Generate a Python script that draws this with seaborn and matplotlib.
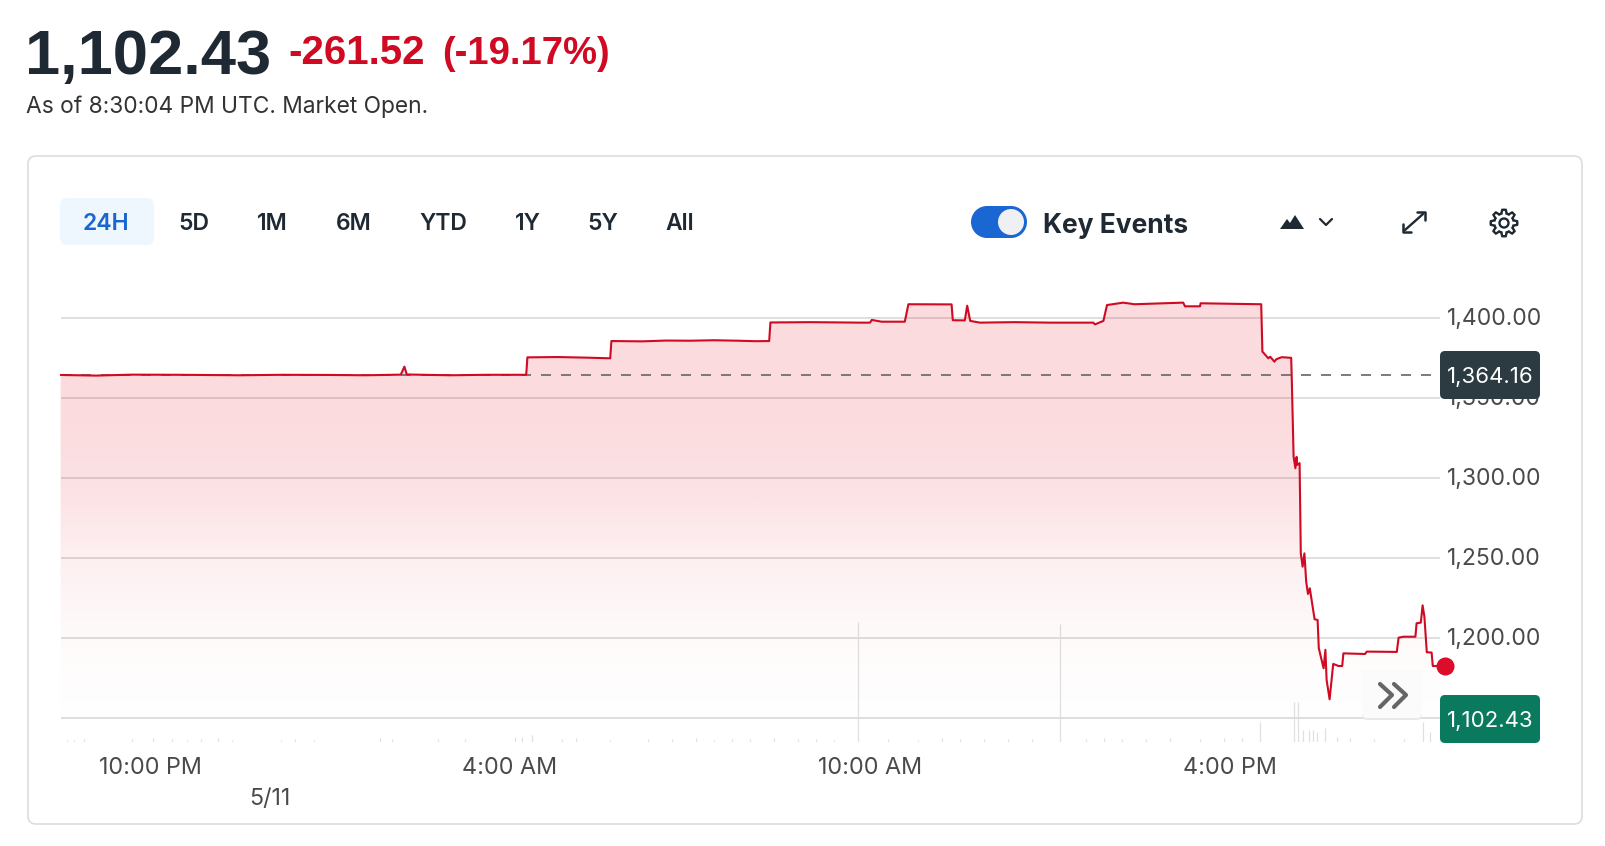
import numpy as np
import matplotlib
matplotlib.use("Agg")
import matplotlib.pyplot as plt
from matplotlib.colors import to_rgb
from matplotlib.patches import FancyBboxPatch, Circle, Polygon
from matplotlib.transforms import ScaledTranslation
import pandas as pd
import seaborn as sns

# Hours after 10:00 PM, and index level
hours = [-1.49, -0.9, -0.3, 0.5, 1.5, 2.2, 3.0, 3.6, 4.18, 4.24, 4.28, 5.0, 5.6, 6.27, 6.29, 6.8, 7.3, 7.67, 7.69, 8.2,
         8.6, 9.0, 9.4, 9.8, 10.1, 10.32, 10.34, 11.0, 11.83, 12.0, 12.03,
         12.19, 12.58, 12.64, 13.36, 13.38, 13.58, 13.62, 13.67, 13.83, 14.4, 15.0, 15.72, 15.75, 15.89, 15.95, 16.22, 16.41, 17.22, 17.25, 17.5, 17.51, 18.17,
         18.52, 18.54, 18.64, 18.67, 18.74, 18.77, 18.86, 19.02, 19.03, 19.06, 19.09, 19.11, 19.12, 19.16, 19.18, 19.21, 19.24, 19.27, 19.30, 19.33,
         19.41, 19.46, 19.48, 19.56, 19.59, 19.61, 19.66, 19.72, 19.81, 19.87, 19.89, 20.25, 20.28, 20.78, 20.81, 20.89, 21.09, 21.11, 21.18, 21.21,
         21.24, 21.28, 21.36, 21.38, 21.58]
prices = [1364.2, 1363.8, 1364.4, 1364.3, 1364.0, 1364.3, 1364.2, 1364.0, 1364.4, 1369.4, 1364.5, 1364.0, 1364.3, 1364.3, 1375.2, 1375.4, 1375.0, 1374.6, 1385.4, 1385.2,
          1385.7, 1385.6, 1385.9, 1385.6, 1385.3, 1385.4, 1397.0, 1397.2, 1396.9, 1396.9, 1398.6,
          1397.5, 1397.5, 1408.4, 1408.3, 1398.4, 1398.3, 1407.5, 1398.0, 1396.9, 1397.2, 1396.9, 1396.9, 1395.8, 1398.0, 1407.9, 1409.4, 1408.4, 1409.4, 1407.1, 1407.1, 1409.0, 1408.6,
          1408.4, 1378.8, 1374.6, 1375.6, 1372.5, 1374.0, 1375.3, 1374.9, 1361.1, 1313.1, 1305.9, 1313.0, 1308.0, 1309.1, 1252.7, 1244.4, 1252.7, 1235.0, 1227.3, 1230.9,
          1211.5, 1211.1, 1193.4, 1180.9, 1192.4, 1173.6, 1161.5, 1183.6, 1182.3, 1182.3, 1190.2, 1189.8, 1191.3, 1191.1, 1200.0, 1200.6, 1200.6, 1209.0, 1209.4, 1220.2,
          1213.1, 1190.9, 1190.7, 1182.3, 1182.3]
prev_close = 1364.16

vol_hours = [-1.39, -1.26, -1.10, -0.30, 0.05, 0.37, 0.62, 0.85, 1.13, 1.36, 2.18, 2.41, 2.73, 3.84, 4.03, 4.80, 5.25, 6.08, 6.2, 6.36,
             6.87, 7.1, 7.67, 8.3, 8.7, 9.1, 9.4, 9.7, 10.0, 10.4, 10.8, 11.1, 11.4, 11.8, 12.3, 12.8, 13.2, 13.5, 13.9, 14.3,
             14.7, 15.16, 15.6, 15.9, 16.2, 16.6, 17.0, 17.5, 17.9, 18.2, 18.5, 19.06, 19.14, 19.21, 19.31, 19.39, 19.45, 19.58, 19.78, 20.0,
             20.4, 20.9, 21.22, 21.33]
volumes = [2, 2, 3, 3, 4, 3, 2, 3, 4, 2, 2, 3, 2, 4, 3, 3, 3, 5, 5, 7,
           3, 4, 2, 3, 3, 4, 2, 3, 3, 4, 3, 3, 2, 120, 3, 2, 4, 3, 3, 3,
           3, 118, 3, 4, 3, 3, 4, 3, 4, 4, 20, 40, 40, 12, 12, 12, 10, 14, 5, 4,
           3, 3, 20, 10]

time_ticks = [0, 6, 12, 18]
time_labels = ["10:00 PM", "4:00 AM", "10:00 AM", "4:00 PM"]
price_ticks = [1150, 1200, 1250, 1300, 1350, 1400]
ranges = ["24H", "5D", "1M", "6M", "YTD", "1Y", "5Y", "All"]
range_x = [106, 193.5, 272.5, 354, 443.5, 527.5, 603, 680]

RED = "#cf0a22"
INK = "#1f2933"
GRID = "#d9d9d9"
W, H = 1606, 846

sns.set_theme(style="white")
plt.rcParams["font.family"] = ["Inter", "DejaVu Sans"]
plt.rcParams["savefig.facecolor"] = "white"

fig = plt.figure(figsize=(W / 100, H / 100), dpi=100, facecolor="white")


def pixel_axes(zorder):
    a = fig.add_axes([0, 0, 1, 1], zorder=zorder)
    a.set_xlim(0, W)
    a.set_ylim(H, 0)
    a.axis("off")
    a.patch.set_alpha(0)
    return a


bg = pixel_axes(0)
fg = pixel_axes(3)

# chart axes cover x 60-1446 px, y 290-742 px
left, right, top, bottom = 60, 1446, 290, 742
ax = fig.add_axes([left / W, 1 - bottom / H, (right - left) / W, (bottom - top) / H], zorder=1)
ax.patch.set_alpha(0)
vax = ax.twinx()
vax.set_zorder(0)
ax.set_zorder(1)
ax.patch.set_alpha(0)

xlim = (-1.5, 21.6)
ylim = (1134.8, 1417.3)

# volume bars
vax.vlines(vol_hours, 0, volumes, color="#e0e0e0", lw=0.9)
vax.set_ylim(0, bottom - top)
vax.axis("off")

# gradient under the line
stops = np.interp(np.linspace(0, 1, 256), [0, 0.30, 0.45, 0.59, 0.77, 0.945, 1], [0.143, 0.143, 0.115, 0.065, 0.022, 0.004, 0])
grad = np.zeros((256, 1, 4))
grad[..., :3] = to_rgb("#e4001b")
grad[:, 0, 3] = stops
im = ax.imshow(grad, extent=(xlim[0], xlim[1], ylim[0], ylim[1]), aspect="auto", origin="upper", zorder=1)
area = ax.fill_between(hours, prices, ylim[0], color="none", lw=0)
im.set_clip_path(area.get_paths()[0], transform=ax.transData)

# grid and previous close
ax.hlines(price_ticks, -1.48, 21.5, color=GRID, lw=1.2, zorder=0.5)
ax.hlines(prev_close, -1.48, 21.43, color="#666666", lw=1.2, linestyles=(0, (6, 6)), zorder=2)

df = pd.DataFrame({"hour": hours, "price": prices})
sns.lineplot(data=df, x="hour", y="price", color=RED, lw=1.5, sort=False, estimator=None, ax=ax, zorder=3)
ax.plot(hours[-1], prices[-1], "o", ms=13, color="#dc0d2a", mec="none", zorder=4, clip_on=False)

ax.set_xlim(xlim)
ax.set_ylim(ylim)
ax.set_xlabel("")
ax.set_ylabel("")
for s in ax.spines.values():
    s.set_visible(False)
ax.yaxis.tick_right()
ax.set_yticks(price_ticks, [f"{p:,.2f}" for p in price_ticks])
ax.tick_params(axis="y", length=0, pad=1, labelsize=16.5, labelcolor="#4a4a4a")
nudge = ScaledTranslation(0, 1 / 72, fig.dpi_scale_trans)
for lab in ax.get_yticklabels():
    lab.set_transform(lab.get_transform() + nudge)
ax.set_xticks(time_ticks, time_labels)
ax.set_xticks([2], ["5/11"], minor=True)
ax.tick_params(axis="x", which="major", length=0, pad=11, labelsize=16.8, labelcolor="#4a4a4a")
ax.tick_params(axis="x", which="minor", length=0, pad=33, labelsize=16.8, labelcolor="#4a4a4a")
ax.grid(False)

# card
bg.add_patch(FancyBboxPatch((28, 156), 1554, 668, boxstyle="round,pad=0,rounding_size=8",
                            fc="white", ec="#dddddd", lw=1.2))
# header
head = ["Liberation Sans", "DejaVu Sans"]
fg.text(25, 74, "1,102.43", fontsize=45.5, fontweight="bold", family=head, color=INK, va="baseline", ha="left")
fg.text(288, 64, "-261.52", fontsize=29, fontweight="bold", family=head, color=RED, va="baseline", ha="left")
fg.text(442, 64, "(-19.17%)", fontsize=27.5, fontweight="bold", family=head, color=RED, va="baseline", ha="left")
fg.text(26, 107, "As of 8:30:04 PM UTC. Market Open.", fontsize=16.4, color="#333333", va="center", ha="left")

# range buttons
fg.add_patch(FancyBboxPatch((60, 198), 94, 47, boxstyle="round,pad=0,rounding_size=7", fc="#eef7fd", ec="none"))
for name, x in zip(ranges, range_x):
    fg.text(x, 224, name, fontsize=16.5, fontweight="semibold", ha="center", va="center",
            color="#1a66cc" if name == "24H" else INK)

# toggle
fg.add_patch(FancyBboxPatch((987, 206), 24, 32, boxstyle="round,pad=0,rounding_size=0", fc="#1a66d2", ec="none"))
fg.add_patch(Circle((987, 222), 16, fc="#1a66d2", ec="none"))
fg.add_patch(Circle((1011, 222), 16, fc="#1a66d2", ec="none"))
fg.add_patch(Circle((1011, 222), 13, fc="#eef0f4", ec="none"))
fg.text(1043, 226, "Key Events", fontsize=19, fontweight="bold", color=INK, va="center", ha="left")

# chart type icon and chevron
fg.add_patch(Polygon([(1280, 229), (1287, 219), (1290, 223), (1295, 215), (1304, 229)], fc=INK, ec="none"))
fg.plot([1320, 1326, 1332], [219, 225, 219], color=INK, lw=1.6)

# expand icon
fg.plot([1405, 1423], [230, 214], color=INK, lw=1.7)
fg.plot([1417, 1425, 1425], [212, 212, 220], color=INK, lw=1.8)
fg.plot([1403, 1403, 1411], [224, 232, 232], color=INK, lw=1.8)

# gear icon
ang = np.linspace(0, 2 * np.pi, 97)
rad = 11.5 + 1.8 * np.clip(3 * np.cos(8 * ang), -1, 1)
fg.add_patch(Polygon(np.c_[1504 + rad * np.sin(ang), 223 + rad * np.cos(ang)], fc="white", ec=INK, lw=1.7))
fg.add_patch(Circle((1504, 223), 4.5, fc="white", ec=INK, lw=1.7))

# value badges
fg.add_patch(FancyBboxPatch((1440, 351), 100, 48, boxstyle="round,pad=0,rounding_size=5", fc="#2c3a42", ec="none"))
fg.text(1490, 377, "1,364.16", fontsize=16, color="white", ha="center", va="center")
fg.add_patch(FancyBboxPatch((1440, 695), 100, 48, boxstyle="round,pad=0,rounding_size=5", fc="#0a7a5f", ec="none"))
fg.text(1490, 721, "1,102.43", fontsize=16, color="white", ha="center", va="center")

# scroll button
fg.add_patch(FancyBboxPatch((1362, 671), 60, 49, boxstyle="round,pad=0,rounding_size=5", fc="#e9e9e9", ec="none"))
fg.add_patch(FancyBboxPatch((1362, 669), 60, 49, boxstyle="round,pad=0,rounding_size=5", fc="#fbfbfb", ec="none"))
fg.plot([1380, 1392, 1380], [684, 695, 707], color="#666666", lw=3)
fg.plot([1394, 1406, 1394], [684, 695, 707], color="#666666", lw=3)

fig.savefig("out.png", dpi=100)
